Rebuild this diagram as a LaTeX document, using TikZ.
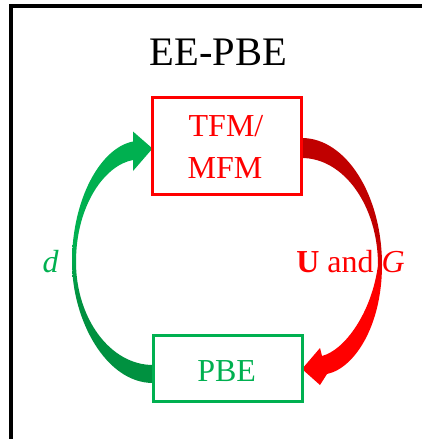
\documentclass[tikz,border=0pt]{standalone}
\usepackage{fontspec}
\setmainfont{Liberation Serif}
\usetikzlibrary{backgrounds}

\definecolor{loopred}{HTML}{FF0000}
\definecolor{loopdarkred}{HTML}{C00000}
\definecolor{loopgreen}{HTML}{00B050}
\definecolor{loopdarkgreen}{HTML}{009140}

% vertical fades for the two curved arrows (0bp = bottom, 100bp = top)
\pgfdeclareverticalshading{redflow}{100bp}{color(0bp)=(loopred); color(45bp)=(loopred); color(55bp)=(loopdarkred); color(100bp)=(loopdarkred)}
\pgfdeclareverticalshading{greenflow}{100bp}{color(0bp)=(loopdarkgreen); color(42bp)=(loopdarkgreen); color(52bp)=(loopgreen); color(100bp)=(loopgreen)}

\tikzset{
  modelbox/.style={draw=#1, line width=3pt, inner sep=0pt, outer sep=0pt},
  boxtext/.style={anchor=base, inner sep=0pt, font=\fontsize{32}{38}\selectfont},
  heading/.style={anchor=base, inner sep=0pt, font=\fontsize{40.5}{48}\selectfont},
  frameline/.style={line width=3.2pt, draw=black},
}

\begin{document}
\begin{tikzpicture}[x=1pt, y=-1pt]
\useasboundingbox (0,0) rectangle (422,439);

% open frame: left and top edges only
\draw[frameline] (11,439) |- (422,6);

\node[heading] (title) at (218.5,65.7) {EE-PBE};

% the two model boxes
\node[modelbox=loopred, minimum width=149.2pt, minimum height=96.7pt] (tfm) at (227.1,145.85) {};
\node[modelbox=loopgreen, minimum width=149pt, minimum height=66.5pt] (pbe) at (227.5,368.25) {};

\node[boxtext, text=loopred] (tfmline) at (226,136.7) {TFM/};
\node[boxtext, text=loopred] (mfmline) at (225,178.3) {MFM};
\node[boxtext, text=loopgreen] (pbetext) at (226.7,381.5) {PBE};

% exchanged quantities
\node[boxtext, text=loopgreen] (dlabel) at (50.5,272.5) {\itshape d};
\node[boxtext, text=loopred] (uglabel) at (350.5,272) {\textbf{U} and \textit{G}};

\begin{pgfonlayer}{background}
  % TFM/MFM -> PBE, tapered curved arrow on the right
  \shade[shading=redflow]
    (tfm.east |- 0,138) .. controls (346,138) and (382,195) .. (382,265)
    .. controls (382,325) and (355,368) .. (327,374)
    -- (320,385) -- (pbe.east |- 0,369) -- (320,348) -- (322,356)
    .. controls (345,350) and (372,312) .. (378,265)
    .. controls (378,206) and (344,158) .. (tfm.east |- 0,158) -- cycle;
  % PBE -> TFM/MFM, tapered curved arrow on the left
  \shade[shading=greenflow]
    (pbe.west |- 0,383) .. controls (106,383) and (72,320) .. (72,262)
    .. controls (72,200) and (100,148) .. (133,141.5)
    -- (133,131.5) -- (tfm.west |- 0,148.5) -- (133,171) -- (133,160)
    .. controls (105,165) and (76,205) .. (76,262)
    .. controls (76,318) and (110,365) .. (pbe.west |- 0,365) -- cycle;
\end{pgfonlayer}
\end{tikzpicture}
\end{document}
